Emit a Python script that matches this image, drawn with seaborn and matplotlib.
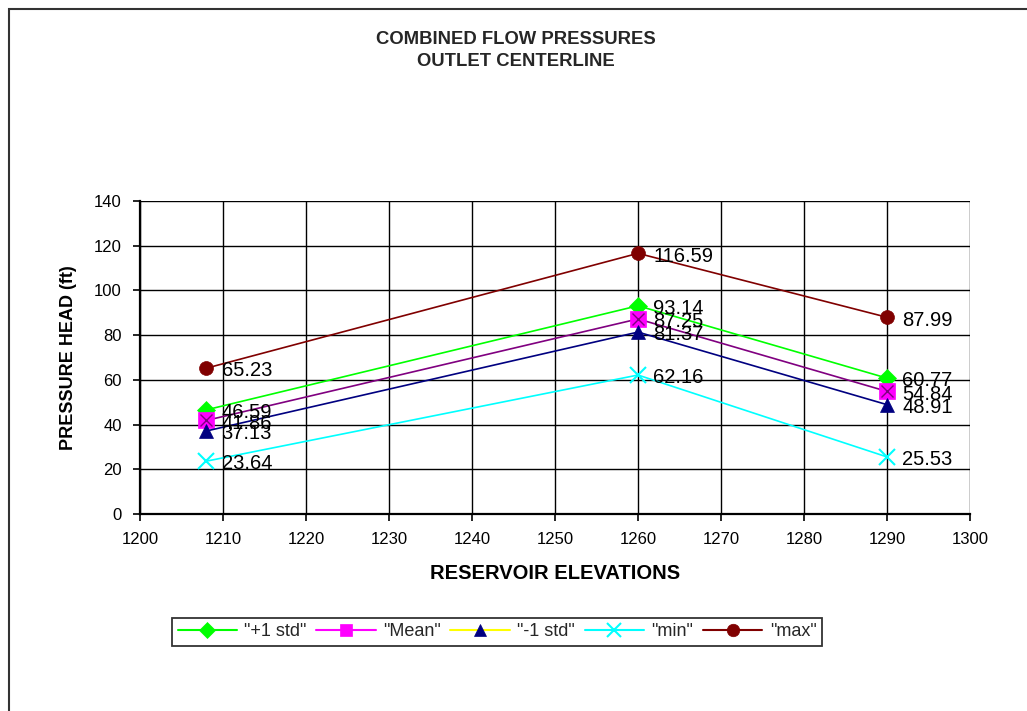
import matplotlib
matplotlib.use("Agg")
import matplotlib.pyplot as plt
from matplotlib.lines import Line2D
from matplotlib.patches import Rectangle
import seaborn as sns
import pandas as pd

# Reservoir elevations and pressure heads (ft) per statistic
elevations = [1208, 1260, 1290]
plus_1_std = [46.59, 93.14, 60.77]
mean_vals = [41.86, 87.25, 54.84]
minus_1_std = [37.13, 81.37, 48.91]
min_vals = [23.64, 62.16, 25.53]
max_vals = [65.23, 116.59, 87.99]

series_names = ['"+1 std"', '"Mean"', '"-1 std"', '"min"', '"max"']
series_values = [plus_1_std, mean_vals, minus_1_std, min_vals, max_vals]

x_ticks = list(range(1200, 1301, 10))
y_ticks = list(range(0, 141, 20))

sns.set_theme(style="white")
plt.rcParams["font.family"] = ["Liberation Sans", "DejaVu Sans"]

fig = plt.figure(figsize=(10.27, 7.11), dpi=100)
ax = fig.add_axes([140 / 1027, 1 - 514 / 711, 830 / 1027, 313 / 711])

# (line colour, marker, marker face, marker size) used on the plot
plot_styles = [
    ("#00FF00", "D", "#00FF00", 9),
    ("#800080", "s", "#FF00FF", 11),
    ("#000080", "^", "#000080", 10),
    ("#00FFFF", "x", "#00FFFF", 11),
    ("#800000", "o", "#800000", 10),
]

for name, vals, (lc, mk, mf, ms) in zip(series_names, series_values, plot_styles):
    df = pd.DataFrame({"elev": elevations, "head": vals})
    sns.lineplot(data=df, x="elev", y="head", ax=ax, color=lc, lw=1.2,
                 marker=mk, markersize=ms, markerfacecolor=mf,
                 markeredgecolor=mf, markeredgewidth=1.5 if mk == "x" else 0.5,
                 legend=False, zorder=3)

# cross drawn over the Mean squares
ax.plot(elevations, mean_vals, ls="none", marker="x", ms=9, mew=1.0,
        color="#800080", zorder=4)

# value labels beside each point
for vals in series_values:
    for xv, yv in zip(elevations, vals):
        ax.annotate(f"{yv:.2f}", (xv, yv), xytext=(11, -2),
                    textcoords="offset points", ha="left", va="center",
                    fontsize=14.5, color="black", zorder=5)

ax.set_xlim(1200, 1300)
ax.set_ylim(0, 140)
ax.set_xticks(x_ticks)
ax.set_yticks(y_ticks)
ax.grid(True, color="black", lw=1.0)
ax.set_axisbelow(True)
for side in ["top", "right"]:
    ax.spines[side].set_visible(False)
for side in ["left", "bottom"]:
    ax.spines[side].set_color("black")
    ax.spines[side].set_linewidth(1.6)
ax.tick_params(axis="both", direction="out", length=5, width=1.2,
               color="black", labelsize=12, labelcolor="black",
               bottom=True, left=True, pad=8)

ax.set_xlabel("RESERVOIR ELEVATIONS", fontsize=14.5, fontweight="bold",
              labelpad=12, color="black")
ax.set_ylabel("PRESSURE HEAD (ft)", fontsize=13, fontweight="bold",
              labelpad=12, color="black")

fig.text(0.5 + 2 / 1027, 1 - 39 / 711, "COMBINED FLOW PRESSURES",
         ha="center", va="center", fontsize=13.3, fontweight="bold")
fig.text(0.5 + 2 / 1027, 1 - 62 / 711, "OUTLET CENTERLINE",
         ha="center", va="center", fontsize=13.3, fontweight="bold")

# legend entries
legend_styles = [
    ("#00FF00", "D", "#00FF00", 8),
    ("#FF00FF", "s", "#FF00FF", 9),
    ("#FFFF00", "^", "#000080", 9),
    ("#00FFFF", "x", "#00FFFF", 10),
    ("#800000", "o", "#800000", 9),
]
handles = [
    Line2D([0], [0], color=lc, lw=1.5, marker=mk, markersize=ms,
           markerfacecolor=mf, markeredgecolor=mf,
           markeredgewidth=1.5 if mk == "x" else 0.5)
    for lc, mk, mf, ms in legend_styles
]
leg = fig.legend(handles, series_names, loc="center",
                 bbox_to_anchor=(497 / 1027, 1 - 632 / 711), ncol=5,
                 fontsize=13, frameon=True, fancybox=False,
                 handlelength=3.3, handletextpad=0.4, columnspacing=0.53,
                 borderpad=0.3)
leg.get_frame().set_edgecolor("black")
leg.get_frame().set_linewidth(1.3)

# outer chart frame
fig.patches.append(Rectangle((9 / 1027, -0.2), 1.2, 1.2 - 9 / 711,
                             transform=fig.transFigure, fill=False,
                             edgecolor="#333333", lw=1.5))

fig.savefig("out.png", dpi=100)
